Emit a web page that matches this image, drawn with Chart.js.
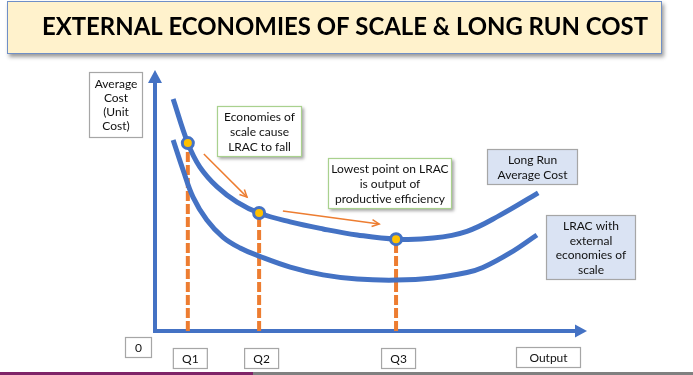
<!DOCTYPE html>
<html>
<head>
<meta charset="utf-8">
<script src="https://cdn.jsdelivr.net/npm/chart.js@4/dist/chart.umd.min.js"></script>
<style>
  html, body { margin: 0; padding: 0; background: #fff; }
  #chart { display: block; }
</style>
</head>
<body>
<canvas id="chart" width="693" height="375"></canvas>
<script>
// ── Data (output on x, average cost on y, both 0–100) ──
const lracX = [4.2, 7.6, 10.4, 14.4, 19.0, 24.1, 31.3, 38.9, 46.8, 55.8, 64.4, 72.2, 79.9, 88.7];
const lracY = [88.9, 72.0, 62.8, 55.2, 49.4, 45.2, 41.8, 39.1, 36.8, 35.2, 35.6, 38.2, 44.4, 52.9];
const extX = [4.2, 6.5, 8.8, 12.0, 15.7, 19.7, 24.1, 31.3, 38.9, 46.8, 55.8, 64.4, 72.2, 75.9, 82.2, 88.4];
const extY = [73.2, 61.7, 51.3, 42.5, 36.0, 31.8, 28.7, 24.5, 21.5, 19.9, 19.5, 20.3, 22.4, 24.3, 29.9, 36.8];
const qLabels = ["Q1", "Q2", "Q3"];
const qOutput = [7.6, 24.1, 55.8];
const qCost = [72.0, 45.2, 35.2];
const arrowFrom = [[11.3, 67.8], [29.6, 46.0]];
const arrowTo = [[21.3, 51.3], [51.9, 41.0]];

const BLUE = "#4472C4", ORANGE = "#ED7D31", GOLD = "#FFC000";
const FONT = "Lato, 'Open Sans', sans-serif";

const toPts = (xs, ys) => xs.map((x, i) => ({ x, y: ys[i] }));

const datasets = [];
datasets.push({ label: "points", data: toPts(qOutput, qCost), showLine: false, pointRadius: 5.5, pointBorderWidth: 3, pointBackgroundColor: GOLD, pointBorderColor: BLUE, order: 0 });
datasets.push({ label: "LRAC", data: toPts(lracX, lracY), showLine: true, borderColor: BLUE, borderWidth: 5, pointRadius: 0, tension: 0.4, order: 1 });
datasets.push({ label: "LRAC external", data: toPts(extX, extY), showLine: true, borderColor: BLUE, borderWidth: 5, pointRadius: 0, tension: 0.4, order: 2 });
qOutput.forEach((q, i) => {
    datasets.push({ label: "drop " + qLabels[i], data: [{ x: q, y: 0 }, { x: q, y: qCost[i] }], showLine: true, borderColor: ORANGE, borderWidth: 4, borderDash: [10, 3], pointRadius: 0, order: 3 });
});
arrowFrom.forEach((a, i) => {
    datasets.push({ label: "arrow" + i, data: [{ x: a[0], y: a[1] }, { x: arrowTo[i][0], y: arrowTo[i][1] }], showLine: true, borderColor: ORANGE, borderWidth: 1.5, pointRadius: 0, order: 0, isArrow: true });
});

// note boxes: [left, top, right, bottom], lines, style
const notes = [
    { r: [89, 72, 143, 138], lines: ["Average", "Cost", "(Unit", "Cost)"], lh: 14, kind: "plain" },
    { r: [217, 106, 302, 157], lines: ["Economies of", "scale cause", "LRAC to fall"], lh: 15, kind: "green" },
    { r: [328, 158, 452, 209], lines: ["Lowest point on LRAC", "is output of", "productive efficiency"], lh: 15, kind: "green" },
    { r: [487, 149, 578, 185], lines: ["Long Run", "Average Cost"], lh: 15, kind: "blue" },
    { r: [546, 215, 636, 280], lines: ["LRAC with", "external", "economies of", "scale"], lh: 14.5, kind: "blue" },
    { r: [125, 337, 152, 358], lines: ["0"], lh: 14, kind: "plain" },
    { r: [516, 347, 581, 368], lines: ["Output"], lh: 14, kind: "plain" },
];

function drawNote(ctx, n) {
    const [l, t, r, b] = n.r;
    ctx.save();
    if (n.kind === "green") {
        ctx.shadowColor = "rgba(0,0,0,0.35)"; ctx.shadowBlur = 3; ctx.shadowOffsetX = 2; ctx.shadowOffsetY = 2;
    }
    ctx.fillStyle = n.kind === "blue" ? "#DAE3F3" : "#fff";
    ctx.fillRect(l, t, r - l, b - t);
    ctx.restore();
    ctx.save();
    ctx.strokeStyle = n.kind === "green" ? "#A9D18E" : "#A6A6A6";
    ctx.lineWidth = 1.2;
    ctx.strokeRect(l + 0.5, t + 0.5, r - l - 1, b - t - 1);
    ctx.fillStyle = "#111";
    ctx.font = "12px " + FONT;
    ctx.textAlign = "center"; ctx.textBaseline = "middle";
    const cx = (l + r) / 2, cy = (t + b) / 2;
    const y0 = cy - (n.lines.length - 1) * n.lh / 2;
    n.lines.forEach((s, i) => ctx.fillText(s, cx, y0 + i * n.lh + 0.5));
    ctx.restore();
}

const decor = {
    id: "decor",
    beforeDraw(chart) {
        const ctx = chart.ctx;
        ctx.save();
        ctx.fillStyle = "#fff";
        ctx.fillRect(0, 0, chart.width, chart.height);
        // title box
        ctx.save();
        ctx.shadowColor = "rgba(0,0,0,0.4)"; ctx.shadowBlur = 4; ctx.shadowOffsetX = 2; ctx.shadowOffsetY = 3;
        ctx.fillStyle = "#FFF2CC";
        ctx.fillRect(7, 1, 655, 53);
        ctx.restore();
        ctx.strokeStyle = "#6F8FC7"; ctx.lineWidth = 1;
        ctx.strokeRect(7.5, 1.5, 654, 52);
        const title = "EXTERNAL ECONOMIES OF SCALE & LONG RUN COST";
        ctx.font = "bold 24px " + FONT;
        const w = ctx.measureText(title).width;
        ctx.save();
        ctx.translate(42, 35);
        ctx.scale(606 / w, 1);
        ctx.fillStyle = "#000"; ctx.textBaseline = "alphabetic";
        ctx.fillText(title, 0, 0);
        ctx.restore();
        // bottom rule
        ctx.fillStyle = "#808080"; ctx.fillRect(0, 372, chart.width, 3);
        ctx.fillStyle = "#7F2468"; ctx.fillRect(0, 372, 253, 3);
        ctx.restore();
    },
    beforeDatasetsDraw(chart) {
        const ctx = chart.ctx, ca = chart.chartArea;
        const x0 = chart.scales.x.getPixelForValue(0), y0 = chart.scales.y.getPixelForValue(0);
        ctx.save();
        ctx.strokeStyle = BLUE; ctx.fillStyle = BLUE; ctx.lineWidth = 4;
        ctx.beginPath();
        ctx.moveTo(x0, ca.top + 10); ctx.lineTo(x0, y0); ctx.lineTo(ca.right - 10, y0);
        ctx.stroke();
        ctx.beginPath();
        ctx.moveTo(x0, ca.top); ctx.lineTo(x0 - 7, ca.top + 13); ctx.lineTo(x0 + 7, ca.top + 13); ctx.closePath(); ctx.fill();
        ctx.beginPath();
        ctx.moveTo(ca.right, y0); ctx.lineTo(ca.right - 12, y0 - 6.5); ctx.lineTo(ca.right - 12, y0 + 6.5); ctx.closePath(); ctx.fill();
        ctx.restore();
    },
    afterDatasetsDraw(chart) {
        const ctx = chart.ctx;
        // arrowheads
        chart.data.datasets.forEach((ds, i) => {
            if (!ds.isArrow) return;
            const pts = chart.getDatasetMeta(i).data;
            const a = pts[0], b = pts[1];
            const ang = Math.atan2(b.y - a.y, b.x - a.x);
            ctx.save();
            ctx.strokeStyle = ORANGE; ctx.lineWidth = 1.5;
            ctx.beginPath();
            ctx.moveTo(b.x - 8 * Math.cos(ang - 0.45), b.y - 8 * Math.sin(ang - 0.45));
            ctx.lineTo(b.x, b.y);
            ctx.lineTo(b.x - 8 * Math.cos(ang + 0.45), b.y - 8 * Math.sin(ang + 0.45));
            ctx.stroke();
            ctx.restore();
        });
    },
    afterDraw(chart) {
        const ctx = chart.ctx;
        notes.forEach((n) => drawNote(ctx, n));
        qOutput.forEach((q, i) => {
            const px = chart.scales.x.getPixelForValue(q) + 2;
            drawNote(ctx, { r: [px - 17, 348, px + 18, 369], lines: [qLabels[i]], lh: 14, kind: "plain" });
        });
    },
};

new Chart(document.getElementById("chart"), {
    type: "scatter",
    data: { datasets },
    options: {
        responsive: false,
        animation: false,
        layout: { padding: { left: 155, top: 70, right: 106, bottom: 44 } },
        plugins: { legend: { display: false }, tooltip: { enabled: false }, title: { display: false } },
        scales: {
            x: { type: "linear", min: 0, max: 100, display: false },
            y: { type: "linear", min: 0, max: 100, display: false },
        },
        elements: { line: { borderCapStyle: "butt" } },
    },
    plugins: [decor],
});
</script>
</body>
</html>
